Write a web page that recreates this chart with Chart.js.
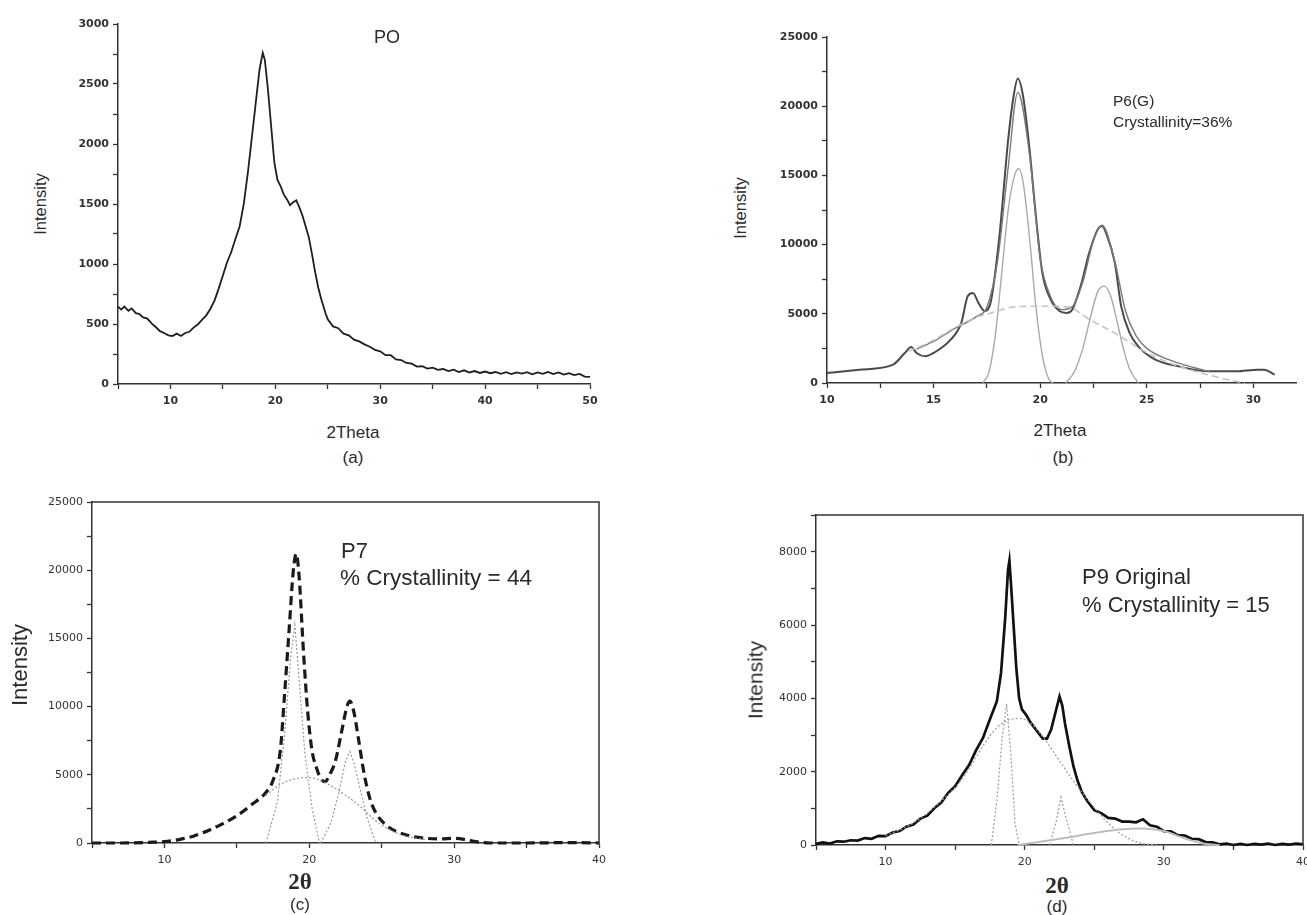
<!DOCTYPE html>
<html>
<head>
<meta charset="utf-8">
<script src="https://cdn.jsdelivr.net/npm/chart.js@4.4.1/dist/chart.umd.min.js"></script>
<style>
  html, body { margin: 0; padding: 0; background: #fff; }
  body { width: 1307px; height: 915px; position: relative; overflow: hidden;
         font-family: "Liberation Sans", Arial, sans-serif; color: #2a2a2a; }
  .panel { position: absolute; }
  .txt { position: absolute; white-space: nowrap; line-height: 1; }
  .ctr { transform: translate(-50%, -50%); }
  .lft { transform: translate(0, -50%); }
  .rot { transform: translate(-50%, -50%) rotate(-90deg); }
</style>
</head>
<body>

<div class="panel" style="left:60px;top:10px"><canvas id="chartA" width="560" height="400"></canvas></div>
<div class="panel" style="left:760px;top:20px"><canvas id="chartB" width="547" height="390"></canvas></div>
<div class="panel" style="left:20px;top:490px"><canvas id="chartC" width="600" height="380"></canvas></div>
<div class="panel" style="left:750px;top:500px"><canvas id="chartD" width="580" height="370"></canvas></div>

<!-- panel (a) -->
<div class="txt rot" style="left:40px;top:204px;font-size:16.5px">Intensity</div>
<div class="txt ctr" style="left:353px;top:432px;font-size:17px">2Theta</div>
<div class="txt ctr" style="left:353px;top:457px;font-size:17px">(a)</div>
<div class="txt ctr" style="left:387px;top:37px;font-size:18px">PO</div>

<!-- panel (b) -->
<div class="txt rot" style="left:740px;top:208px;font-size:16.5px">Intensity</div>
<div class="txt ctr" style="left:1060px;top:430px;font-size:17px">2Theta</div>
<div class="txt ctr" style="left:1063px;top:457px;font-size:17px">(b)</div>
<div class="txt lft" style="left:1113px;top:101px;font-size:15.5px">P6(G)</div>
<div class="txt lft" style="left:1113px;top:122px;font-size:15.5px">Crystallinity=36%</div>

<!-- panel (c) -->
<div class="txt rot" style="left:20px;top:665px;font-size:22px">Intensity</div>
<div class="txt ctr" style="left:300px;top:881px;font-size:23px;font-family:'Liberation Serif',serif;font-weight:bold">2θ</div>
<div class="txt ctr" style="left:300px;top:904px;font-size:17px">(c)</div>
<div class="txt lft" style="left:341px;top:551px;font-size:22px">P7</div>
<div class="txt lft" style="left:340px;top:578px;font-size:22.5px">% Crystallinity = 44</div>

<!-- panel (d) -->
<div class="txt rot" style="left:755px;top:680px;font-size:21px">Intensity</div>
<div class="txt ctr" style="left:1057px;top:885px;font-size:23px;font-family:'Liberation Serif',serif;font-weight:bold">2θ</div>
<div class="txt ctr" style="left:1057px;top:906px;font-size:17px">(d)</div>
<div class="txt lft" style="left:1082px;top:577px;font-size:22px">P9 Original</div>
<div class="txt lft" style="left:1082px;top:605px;font-size:22px">% Crystallinity = 15</div>

<script>
// ---------- (a) PO: measured pattern ----------
const aTheta = [5, 5.3, 5.6, 6, 6.3, 6.7, 7, 7.4, 7.8, 8.2, 8.6, 9, 9.4, 9.8, 10.2, 10.6, 11, 11.4, 11.8, 12.2,
  12.6, 13, 13.4, 13.8, 14.2, 14.6, 15, 15.4, 15.8, 16.2, 16.6, 17, 17.4, 17.8, 18.2, 18.5, 18.8, 19, 19.3, 19.6,
  19.9, 20.2, 20.5, 20.8, 21.1, 21.4, 21.7, 22, 22.3, 22.6, 22.9, 23.2, 23.5, 23.8, 24.1, 24.4, 24.8,
  25, 25.5, 26, 26.5, 27, 27.5, 28, 28.5, 29, 29.5, 30, 30.5, 31, 31.5, 32, 32.5, 33, 33.5, 34, 34.5, 35, 35.5,
  36, 36.5, 37, 37.5, 38, 38.5, 39, 39.5, 40, 40.5, 41, 41.5, 42, 42.5, 43, 43.5, 44, 44.5, 45, 45.5, 46, 46.5,
  47, 47.5, 48, 48.5, 49, 49.5, 50];
const aIntensity = [645, 620, 645, 610, 630, 590, 585, 555, 545, 505, 475, 440, 425, 405, 400, 420, 400, 425, 435, 470,
  495, 535, 570, 625, 695, 795, 905, 1015, 1100, 1210, 1315, 1505, 1775, 2085, 2395, 2625, 2760, 2700, 2450, 2150,
  1850, 1700, 1650, 1580, 1540, 1490, 1515, 1530, 1470, 1400, 1310, 1220, 1080, 930, 800, 700, 585,
  540, 480, 465, 420, 405, 370, 355, 330, 310, 285, 272, 240, 240, 205, 200, 175, 170, 145, 148, 128, 136, 118,
  125, 108, 120, 100, 114, 96, 108, 92, 104, 90, 100, 84, 98, 82, 96, 86, 99, 80, 97, 84, 100, 82, 96,
  78, 90, 74, 84, 62, 60, 45];

// ---------- (b) P6(G): measured, fitted sum, amorphous halo, crystalline peaks ----------
const bTheta = [10, 11.5, 13.1, 13.65, 13.95, 14.2, 14.6, 15, 15.8, 16.3, 16.6, 16.85, 17.1, 17.4, 17.7, 18.1, 18.5,
  18.75, 18.95, 19.2, 19.5, 19.8, 20.1, 20.5, 20.9, 21.25, 21.5, 21.9, 22.3, 22.7, 22.9, 23.1, 23.5, 23.8, 24.2,
  24.6, 25.4, 26.5, 27.9, 29.2, 30.2, 30.5, 31];
const bMeasured = [720, 960, 1330, 2170, 2600, 2170, 1930, 2170, 3130, 4340, 6270, 6500, 5800, 5200, 6000, 10800,
  17600, 20700, 22000, 20700, 16900, 12050, 7960, 6000, 5200, 5060, 5300, 7000, 9400, 11100, 11350, 10800, 8700,
  5540, 3600, 2650, 1690, 1200, 840, 840, 960, 960, 600];
const bFitTheta = [14.2, 15, 16, 17, 17.5, 18, 18.5, 18.95, 19.5, 20, 20.5, 21, 21.5, 22, 22.5, 22.9, 23.5, 24,
  24.5, 25, 26, 27, 28];
const bFitSum = [2450, 3000, 3950, 4800, 5500, 8800, 15600, 21000, 16500, 9000, 6200, 5300, 5500, 7300, 10300,
  11400, 8800, 5200, 3400, 2500, 1700, 1200, 800];
const bHaloTheta = [13.8, 14.4, 15, 16, 17, 17.7, 18.8, 20, 21.3, 22.3, 23.5, 25, 26, 27, 28, 28.8, 29.6];
const bHalo = [2300, 2650, 3100, 4000, 4750, 5060, 5500, 5550, 5500, 4600, 3600, 2200, 1500, 960, 550, 240, 0];
const bPeak1Theta = [17.3, 17.6, 17.9, 18.2, 18.5, 18.8, 19.0, 19.2, 19.5, 19.8, 20.1, 20.4, 20.6];
const bPeak1 = [0, 800, 3500, 8000, 12500, 15000, 15500, 14500, 10500, 5500, 2000, 300, 0];
const bPeak2Theta = [21.2, 21.6, 22.0, 22.4, 22.7, 23.0, 23.3, 23.6, 23.9, 24.2, 24.6];
const bPeak2 = [0, 800, 2500, 5000, 6600, 7000, 6300, 4500, 2500, 1000, 0];

// ---------- (c) P7: fitted profile and its components ----------
const cTheta = [5, 7, 9, 10, 11, 12, 13, 14, 15, 16, 17, 17.5, 18, 18.3, 18.6, 18.9, 19.1, 19.3, 19.6, 19.9, 20.2,
  20.5, 20.8, 21.1, 21.4, 21.8, 22.2, 22.6, 22.8, 23.1, 23.4, 23.8, 24.2, 24.6, 25.2, 26, 27, 28, 29, 30, 30.8,
  31.5, 32.5, 35, 38, 40];
const cProfile = [0, 0, 50, 100, 250, 500, 900, 1400, 2000, 2800, 3700, 4600, 6800, 11000, 15500, 20000, 21200,
  19500, 14000, 9500, 6700, 5500, 4700, 4500, 5000, 6000, 8000, 10000, 10400, 9500, 7600, 5000, 3200, 2200, 1400,
  850, 500, 350, 300, 350, 250, 100, 0, 0, 30, 0];
const cHaloTheta = [17, 18, 19, 19.7, 20.5, 21.5, 22.5, 23.5, 24.5, 25.5, 26.5, 28];
const cHalo = [3500, 4300, 4700, 4800, 4700, 4200, 3500, 2700, 1700, 1000, 550, 250];
const cPeak1Theta = [17.0, 17.8, 18.3, 18.7, 19.0, 19.3, 19.7, 20.2, 20.7];
const cPeak1 = [0, 3000, 8000, 13500, 16000, 12000, 6500, 2500, 0];
const cPeak2Theta = [20.8, 21.5, 22.0, 22.5, 22.8, 23.1, 23.5, 24.0, 24.6];
const cPeak2 = [0, 1500, 3500, 6000, 6700, 5800, 4000, 1800, 0];

// ---------- (d) P9 Original: measured pattern and deconvolution ----------
const dTheta = [5, 5.5, 6, 6.5, 7, 7.5, 8, 8.5, 9, 9.5, 10, 10.5, 11, 11.5, 12, 12.5, 13, 13.5, 14, 14.5, 15, 15.5,
  16, 16.5, 17, 17.5, 18, 18.3, 18.6, 18.8, 18.9, 19.0, 19.2, 19.4, 19.6, 19.8, 20.1, 20.4, 20.7, 21.0, 21.3, 21.6,
  21.9, 22.2, 22.5, 22.7, 22.9, 23.2, 23.5, 23.8, 24.1, 24.5, 25, 25.5, 26, 26.5, 27, 27.5, 28, 28.5, 29, 29.5, 30,
  30.5, 31, 31.5, 32, 32.5, 33, 33.5, 34, 34.5, 35, 35.5, 36, 36.5, 37, 37.5, 38, 38.5, 39, 39.5, 40];
const dIntensity = [30, 70, 40, 100, 90, 130, 120, 190, 170, 250, 240, 340, 380, 500, 560, 720, 800, 1000, 1160, 1420,
  1600, 1900, 2180, 2580, 2920, 3430, 3920, 4700, 6200, 7500, 7750, 7200, 6000, 4800, 4000, 3700, 3550, 3350, 3200,
  3050, 2900, 2900, 3150, 3600, 4050, 3800, 3300, 2700, 2150, 1750, 1450, 1200, 950, 870, 740, 720, 640, 640, 620,
  700, 540, 500, 380, 370, 270, 260, 170, 160, 80, 70, 20, 40, 0, 30, 0, 30, 10, 40, 0, 30, 10, 40, 20];
const dHaloTheta = [10, 12, 14, 15.5, 17, 18, 19, 19.7, 20.5, 21.5, 22.5, 23.5, 24.5, 25.5, 26.5, 27.5, 28.5, 29.5];
const dHalo = [250, 600, 1200, 1800, 2700, 3200, 3430, 3450, 3300, 2850, 2300, 1750, 1250, 800, 420, 170, 40, 0];
const dPeak1Theta = [17.6, 18.0, 18.4, 18.7, 19.0, 19.3, 19.6];
const dPeak1 = [0, 1200, 3000, 3850, 2500, 600, 0];
const dPeak2Theta = [21.8, 22.3, 22.6, 23.0, 23.5];
const dPeak2 = [0, 700, 1300, 700, 0];
const dBroadTheta = [19.5, 21, 23, 25, 27, 28.5, 30, 31, 32, 33, 34];
const dBroad = [0, 80, 200, 330, 430, 450, 380, 250, 120, 30, 0];

// ---------- helpers ----------
const pts = (xs, ys) => xs.map((x, i) => ({ x, y: ys[i] }));
const isMultiple = (v, m) => Math.abs(v / m - Math.round(v / m)) < 1e-6;

// closes the plot frame on the top and right sides
const framePlugin = {
  id: 'frame',
  afterDraw(chart, args, opts) {
    if (!opts.on) return;
    const { ctx, chartArea: a } = chart;
    ctx.save();
    ctx.strokeStyle = '#333';
    ctx.lineWidth = 1.5;
    ctx.beginPath();
    ctx.moveTo(a.left, a.top);
    ctx.lineTo(a.right, a.top);
    ctx.lineTo(a.right, a.bottom);
    ctx.stroke();
    ctx.restore();
  }
};

function line(data, color, width, dash, smooth) {
  return {
    data, borderColor: color, borderWidth: width, borderDash: dash || [],
    pointRadius: 0, fill: false, clip: false,
    cubicInterpolationMode: smooth ? 'monotone' : 'default', tension: 0
  };
}

function makeChart(id, c) {
  const tickFont = { family: c.fontFamily, size: c.fontSize, weight: c.fontWeight };
  return new Chart(document.getElementById(id), {
    type: 'line',
    data: { datasets: c.datasets },
    plugins: [framePlugin],
    options: {
      responsive: false, animation: false, devicePixelRatio: 1,
      layout: { autoPadding: false, padding: { left: 0, top: c.padTop, right: c.padRight, bottom: 0 } },
      plugins: { legend: { display: false }, tooltip: { enabled: false }, frame: { on: c.boxed } },
      scales: {
        x: {
          type: 'linear', min: c.xMin, max: c.xMax,
          afterFit: s => { s.height = c.xAxisH; },
          border: { display: true, color: '#333', width: 1.5 },
          grid: { display: true, drawOnChartArea: false, drawTicks: true, tickLength: 5, tickColor: '#333', tickWidth: 1.3 },
          ticks: { stepSize: c.xStep, includeBounds: false, autoSkip: false, maxRotation: 0, padding: 6,
                   color: '#333', font: tickFont,
                   callback: v => isMultiple(v, c.xLabelEvery) ? String(v) : '' }
        },
        y: {
          type: 'linear', min: c.yMin, max: c.yMax,
          afterFit: s => { s.width = c.yAxisW; },
          border: { display: true, color: '#333', width: 1.5 },
          grid: { display: true, drawOnChartArea: false, drawTicks: true, tickLength: 5, tickColor: '#333', tickWidth: 1.3 },
          ticks: { stepSize: c.yStep, includeBounds: false, autoSkip: false, padding: 4,
                   color: '#333', font: tickFont,
                   callback: v => isMultiple(v, c.yLabelEvery) ? String(v) : '' }
        }
      }
    }
  });
}

// (a)
makeChart('chartA', {
  xMin: 5, xMax: 50, xStep: 5, xLabelEvery: 10,
  yMin: 0, yMax: 3000, yStep: 250, yLabelEvery: 500,
  yAxisW: 58, xAxisH: 26, padTop: 14, padRight: 30, boxed: false,
  fontFamily: 'DejaVu Sans', fontSize: 11, fontWeight: 'bold',
  datasets: [line(pts(aTheta, aIntensity), '#1e1e1e', 1.8)]
});

// (b)
makeChart('chartB', {
  xMin: 10, xMax: 32, xStep: 2.5, xLabelEvery: 5,
  yMin: 0, yMax: 25000, yStep: 2500, yLabelEvery: 5000,
  yAxisW: 67, xAxisH: 27, padTop: 17, padRight: 11, boxed: false,
  fontFamily: 'DejaVu Sans', fontSize: 11, fontWeight: 'bold',
  datasets: [
    line(pts(bHaloTheta, bHalo), '#c4c4c4', 1.6, [7, 4], true),
    line(pts(bPeak1Theta, bPeak1), '#a9a9a9', 1.4, [], true),
    line(pts(bPeak2Theta, bPeak2), '#a9a9a9', 1.4, [], true),
    line(pts(bFitTheta, bFitSum), '#7a7a7a', 1.4, [], true),
    line(pts(bTheta, bMeasured), '#4a4a4a', 2.0, [], true)
  ]
});

// (c)
makeChart('chartC', {
  xMin: 5, xMax: 40, xStep: 5, xLabelEvery: 10,
  yMin: 0, yMax: 25000, yStep: 2500, yLabelEvery: 5000,
  yAxisW: 72, xAxisH: 27, padTop: 12, padRight: 21, boxed: true,
  fontFamily: 'DejaVu Sans', fontSize: 11, fontWeight: 'normal',
  datasets: [
    line(pts(cHaloTheta, cHalo), '#9a9a9a', 1.2, [2, 2], true),
    line(pts(cPeak1Theta, cPeak1), '#9a9a9a', 1.2, [2, 2]),
    line(pts(cPeak2Theta, cPeak2), '#9a9a9a', 1.2, [2, 2]),
    line(pts(cTheta, cProfile), '#1a1a1a', 3.2, [9, 5], true)
  ]
});

// (d)
makeChart('chartD', {
  xMin: 5, xMax: 40, xStep: 5, xLabelEvery: 10,
  yMin: 0, yMax: 9000, yStep: 1000, yLabelEvery: 2000,
  yAxisW: 66, xAxisH: 25, padTop: 15, padRight: 27, boxed: true,
  fontFamily: 'DejaVu Sans', fontSize: 11, fontWeight: 'normal',
  datasets: [
    line(pts(dBroadTheta, dBroad), '#bdbdbd', 2.0, [], true),
    line(pts(dHaloTheta, dHalo), '#9a9a9a', 1.2, [2, 2], true),
    line(pts(dPeak1Theta, dPeak1), '#9a9a9a', 1.2, [2, 2]),
    line(pts(dPeak2Theta, dPeak2), '#9a9a9a', 1.2, [2, 2]),
    line(pts(dTheta, dIntensity), '#111', 2.7)
  ]
});
</script>
</body>
</html>
